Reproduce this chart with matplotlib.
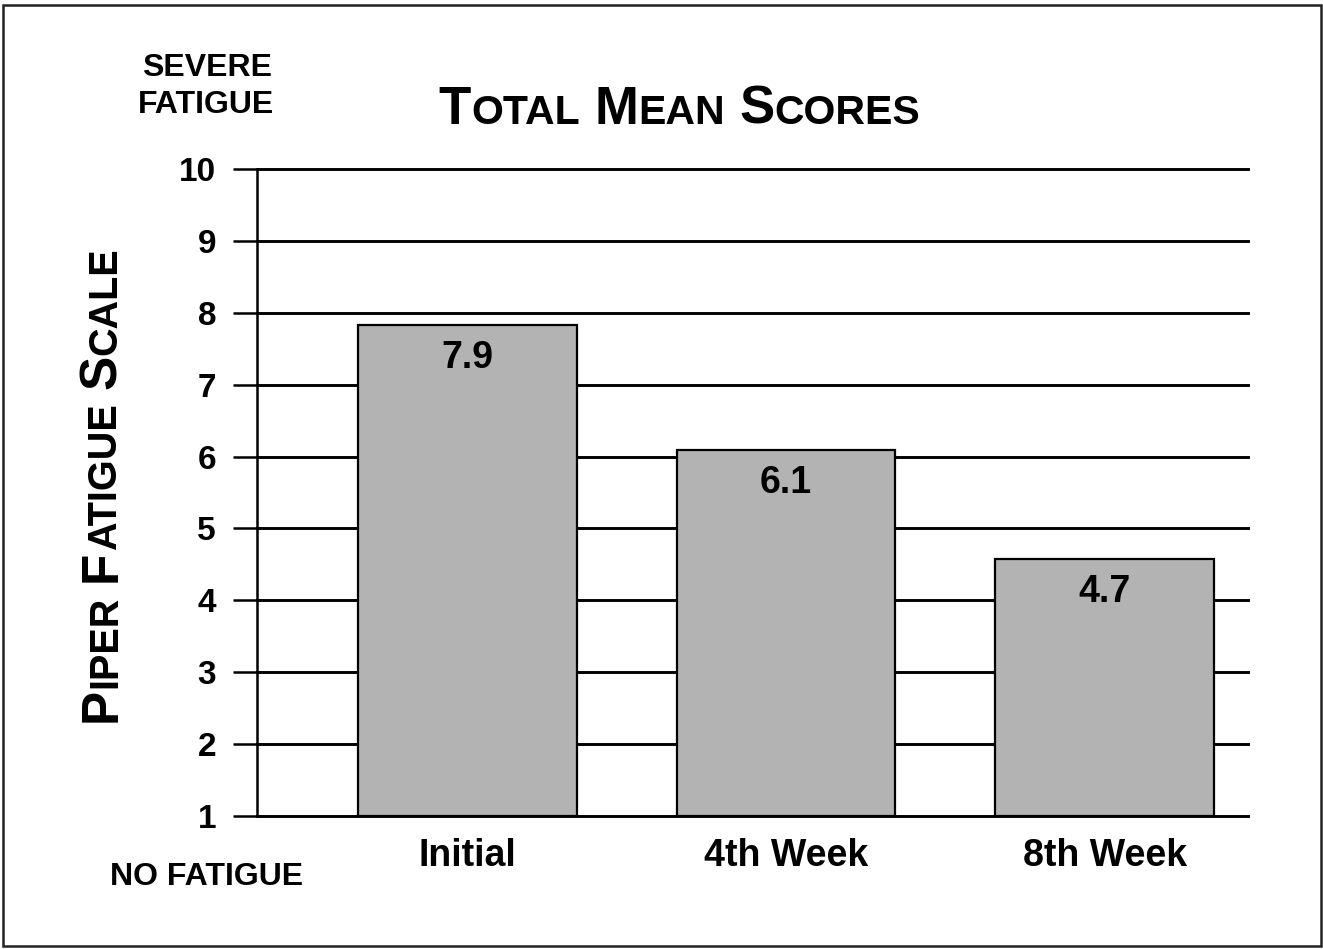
import matplotlib
matplotlib.use("Agg")
import matplotlib.pyplot as plt
from matplotlib.patches import Rectangle

categories = ["Initial", "4th Week", "8th Week"]
bar_values = [7.83, 6.09, 4.57]
bar_labels = ["7.9", "6.1", "4.7"]
y_ticks = [1, 2, 3, 4, 5, 6, 7, 8, 9, 10]
title_words = ["TOTAL", "MEAN", "SCORES"]
ylabel_words = ["PIPER", "FATIGUE", "SCALE"]

W, H = 1323, 949
plt.rcParams['font.family'] = ['Liberation Sans', 'DejaVu Sans']
plt.rcParams['font.weight'] = 'bold'

fig = plt.figure(figsize=(W / 100, H / 100), dpi=100)
ax = fig.add_axes([257 / W, 1 - 816 / H, (1248 - 257) / W, (816 - 169) / H])

x = list(range(len(categories)))
ax.bar(x, [v - 1 for v in bar_values], bottom=1, width=0.686,
       color="#b3b3b3", edgecolor="black", linewidth=1.6, zorder=3)
for xi, v, lab in zip(x, bar_values, bar_labels):
    ax.annotate(lab, (xi, v), xytext=(0, -10.5), textcoords="offset points",
                ha="center", va="top", fontsize=27, fontweight="bold", zorder=4)

ax.set_xlim(-0.66, 2.45)
ax.set_ylim(1, 10)
ax.set_yticks(y_ticks)
ax.set_yticklabels([str(t) for t in y_ticks], fontsize=24, fontweight="bold")
ax.set_xticks(x)
ax.set_xticklabels(categories, fontsize=27, fontweight="bold")
ax.tick_params(axis="y", length=17.5, width=1.8, pad=12, direction="out")
ax.tick_params(axis="x", length=0, pad=16)
ax.yaxis.grid(True, color="black", linewidth=2.1, zorder=0)
ax.set_axisbelow(True)
for gl in ax.yaxis.get_gridlines():
    gl.set_clip_on(False)
for s in ["top", "right", "bottom"]:
    ax.spines[s].set_visible(False)
ax.spines["left"].set_linewidth(1.8)

renderer = fig.canvas.get_renderer()


def piece_width(txt, size):
    t = fig.text(0, 0, txt, fontsize=size, fontweight="bold")
    w = t.get_window_extent(renderer).width
    t.remove()
    return w


def smallcaps_pieces(words, big, small):
    pieces = []
    for i, w in enumerate(words):
        if i > 0:
            pieces.append((" ", big))
        pieces.append((w[0], big))
        pieces.append((w[1:], small))
    return pieces


def piece_adv(txt, size):
    if txt == " ":
        return 0.278 * size * 100 / 72
    return piece_width(txt, size)


# title (horizontal)
pieces = smallcaps_pieces(title_words, 38, 29.5)
total = sum(piece_adv(t, s) for t, s in pieces)
cx = 679.5 - total / 2
base_y = 124
for t, s in pieces:
    if t != " ":
        fig.text(cx / W, 1 - base_y / H, t, fontsize=s, fontweight="bold",
                 ha="left", va="baseline")
    cx += piece_adv(t, s)

# y label (rotated)
pieces = smallcaps_pieces(ylabel_words, 37, 28.5)
total = sum(piece_adv(t, s) for t, s in pieces)
cy = 485 + total / 2
base_x = 116
for t, s in pieces:
    if t != " ":
        fig.text(base_x / W, 1 - cy / H, t, fontsize=s, fontweight="bold",
                 ha="left", va="baseline", rotation=90, rotation_mode="anchor")
    cy -= piece_adv(t, s)

fig.text(207 / W, 1 - 76 / H, "SEVERE", fontsize=23, fontweight="bold",
         ha="center", va="baseline")
fig.text(206 / W, 1 - 113 / H, "FATIGUE", fontsize=23, fontweight="bold",
         ha="center", va="baseline")
fig.text(207 / W, 1 - 885 / H, "NO FATIGUE", fontsize=23, fontweight="bold",
         ha="center", va="baseline")

fig.patches.append(Rectangle((3 / W, 1 - 946 / H), (1321 - 3) / W, (946 - 5) / H,
                             transform=fig.transFigure, fill=False,
                             edgecolor="#222222", linewidth=1.8))

fig.savefig("out.png", dpi=100)
